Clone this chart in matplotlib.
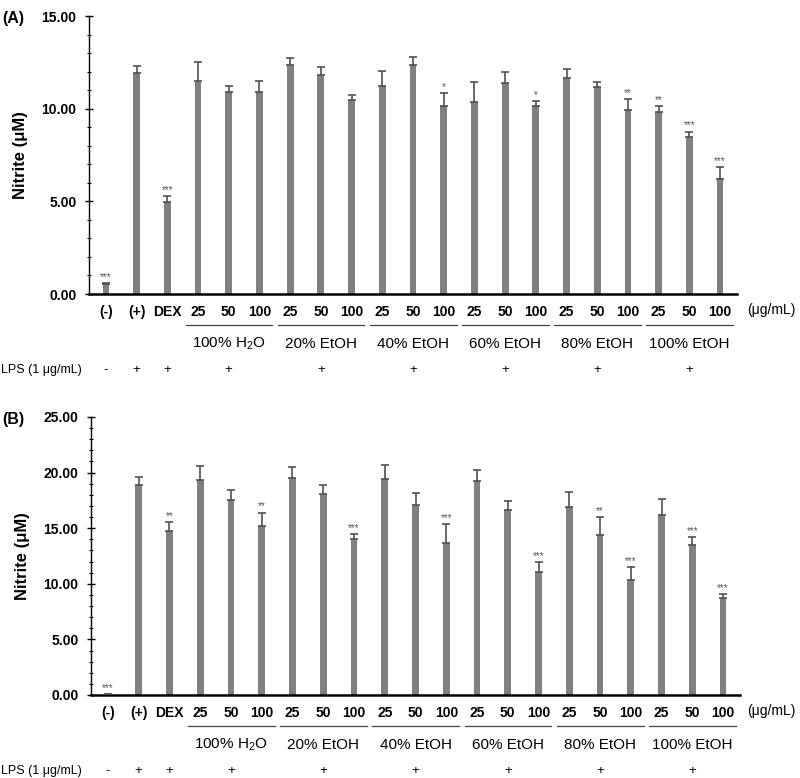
import matplotlib
matplotlib.use("Agg")
import matplotlib.pyplot as plt
from matplotlib.ticker import MultipleLocator, FormatStrFormatter
import numpy as np

plt.rcParams['font.family'] = ['Liberation Sans', 'DejaVu Sans']
plt.rcParams['mathtext.fontset'] = 'custom'
plt.rcParams['mathtext.rm'] = 'Liberation Sans'
plt.rcParams['mathtext.it'] = 'Liberation Sans:italic'
plt.rcParams['mathtext.bf'] = 'Liberation Sans:bold'

# ---------------- data ----------------
tick_labels = ['(-)', '(+)', 'DEX',
               '25', '50', '100', '25', '50', '100', '25', '50', '100',
               '25', '50', '100', '25', '50', '100', '25', '50', '100']
groups = ['100% H$_2$O', '20% EtOH', '40% EtOH', '60% EtOH', '80% EtOH', '100% EtOH']
lps_signs = ['-', '+', '+', '+', '+', '+', '+', '+', '+']

means_a = [0.52, 11.95, 4.96, 11.51, 10.92, 10.88, 12.36, 11.83, 10.49,
           11.22, 12.36, 10.14, 10.34, 11.37, 10.14, 11.65, 11.17, 9.91,
           9.84, 8.49, 6.20]
err_a = [0.05, 0.37, 0.34, 1.01, 0.32, 0.63, 0.36, 0.42, 0.23,
         0.83, 0.41, 0.72, 1.10, 0.63, 0.27, 0.51, 0.29, 0.61,
         0.30, 0.27, 0.63]
sig_a = ['***', '', '***', '', '', '', '', '', '',
         '', '', '*', '', '', '*', '', '', '**',
         '**', '***', '***']

means_b = [0.10, 18.90, 14.78, 19.35, 17.52, 15.20, 19.47, 18.09, 14.00,
           19.41, 17.07, 13.64, 19.26, 16.65, 11.09, 16.95, 14.39, 10.31,
           16.23, 13.46, 8.74]
err_b = [0.00, 0.66, 0.78, 1.23, 0.90, 1.20, 1.02, 0.78, 0.48,
         1.26, 1.11, 1.71, 0.99, 0.84, 0.84, 1.32, 1.60, 1.17,
         1.41, 0.75, 0.36]
sig_b = ['***', '', '**', '', '', '**', '', '', '***',
         '', '', '***', '', '', '***', '', '**', '***',
         '', '***', '***']

W, H = 800, 778
fig = plt.figure(figsize=(W / 100, H / 100), dpi=100)

bar_color = '#808080'
err_color = '#505050'


def make_panel(left, right, top, bottom, means, errs, sigs, ymax, letter):
    ax = fig.add_axes([left / W, 1 - bottom / H, (right - left) / W, (bottom - top) / H])
    x = np.arange(len(means))
    ax.bar(x, means, width=0.22, color=bar_color, zorder=2)
    ax.errorbar(x, means, yerr=[np.zeros(len(errs)), errs], fmt='none',
                ecolor=err_color, elinewidth=1.2, capsize=3, capthick=1.2, zorder=3)
    for xi, m, e, s in zip(x, means, errs, sigs):
        if s:
            ax.text(xi, m + e + ymax * 0.004, s, ha='center', va='bottom',
                    fontsize=7, color='#555555')
    ax.set_xlim(-0.55, 20.55)
    ax.set_ylim(0, ymax)
    ax.yaxis.set_major_locator(MultipleLocator(5))
    ax.yaxis.set_minor_locator(MultipleLocator(1))
    ax.yaxis.set_major_formatter(FormatStrFormatter('%.2f'))
    for lab in ax.get_yticklabels():
        lab.set_fontweight('bold')
    ax.tick_params(axis='y', which='major', direction='inout', length=6, width=1,
                   labelsize=10, pad=6)
    ax.tick_params(axis='y', which='minor', direction='inout', length=3, width=0.8)
    ax.set_xticks(x)
    ax.set_xticklabels(tick_labels, fontweight='bold', fontsize=10)
    ax.tick_params(axis='x', length=0, pad=8)
    for sp in ['top', 'right']:
        ax.spines[sp].set_visible(False)
    ax.spines['bottom'].set_linewidth(1.8)
    ax.spines['left'].set_linewidth(1.0)
    ax.set_ylabel('Nitrite (\u03bcM)', fontweight='bold', fontsize=12, labelpad=10)

    hpx = bottom - top

    def yf(ypx):
        return (bottom - ypx) / hpx

    tr = ax.get_xaxis_transform()
    # unit label
    fig.text(747 / W, 1 - (bottom + 16) / H, '(\u03bcg/mL)', ha='left',
             va='center', fontsize=10)
    # group lines and labels
    for g, name in enumerate(groups):
        c = 4 + 3 * g
        ax.plot([c - 1.4, c + 1.42], [yf(bottom + 31)] * 2, transform=tr,
                color='#444444', lw=0.9, clip_on=False)
        ax.text(c, yf(bottom + 50), name, transform=tr, ha='center', va='center',
                fontsize=11, clip_on=False)
    # LPS row
    lps_x = [0, 1, 2] + [4 + 3 * g for g in range(len(groups))]
    for xi, s in zip(lps_x, lps_signs):
        ax.text(xi, yf(bottom + 76), s, transform=tr, ha='center', va='center',
                fontsize=9.5, clip_on=False)
    fig.text(1 / W, 1 - (bottom + 76) / H, 'LPS (1 \u03bcg/mL)', ha='left',
             va='center', fontsize=9)
    fig.text(2 / W, 1 - (top + 2) / H, letter, ha='left', va='center',
             fontsize=11.5, fontweight='bold')
    return ax


make_panel(89, 737, 16, 294, means_a, err_a, sig_a, 15, '(A)')
make_panel(91, 740, 417, 695, means_b, err_b, sig_b, 25, '(B)')

fig.savefig('out.png', dpi=100, facecolor='white')
